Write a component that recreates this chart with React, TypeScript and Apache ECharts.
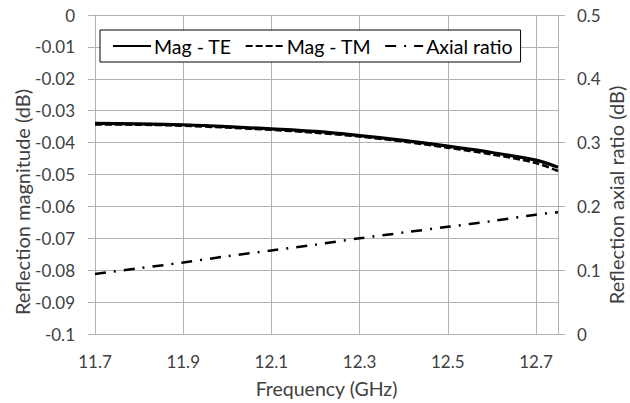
import React, { useEffect, useRef } from "react";
import * as echarts from "echarts";

const freqGHz = [11.7, 11.8, 11.9, 12.0, 12.1, 12.2, 12.3, 12.4, 12.5, 12.6, 12.7, 12.75];
const magTE = [-0.034, -0.0341, -0.0344, -0.035, -0.0357, -0.0365, -0.0378, -0.0393, -0.0411, -0.0431, -0.0455, -0.0477];
const magTM = [-0.0343, -0.0344, -0.0347, -0.0353, -0.036, -0.0369, -0.0381, -0.0397, -0.0416, -0.0437, -0.0464, -0.0489];
const axialRatio = [0.094, 0.103, 0.112, 0.122, 0.131, 0.14, 0.15, 0.159, 0.168, 0.177, 0.187, 0.191];
const seriesNames = ["Mag - TE", "Mag - TM", "Axial ratio"];
const X0 = 11.7;
const X_MAX = 12.75;

const FONT = "Lato";
const GRID = "#b3b3b3";
const TXT = "#404040";

export default function App() {
  const ref = useRef<HTMLDivElement>(null);
  useEffect(() => {
    if (!ref.current) return;
    const chart = echarts.init(ref.current, undefined, { renderer: "svg" });
    const pts = (ys: number[]) => freqGHz.map((f, i) => [+(f - X0).toFixed(4), ys[i]]);
    chart.setOption({
      animation: false,
      textStyle: { fontFamily: FONT },
      grid: { left: 95, right: 72, top: 15, bottom: 66 },
      legend: {
        left: 100,
        top: 30,
        data: seriesNames,
        backgroundColor: "#fff",
        borderColor: "#000",
        borderWidth: 1,
        padding: [6, 8, 6, 12],
        itemGap: 13,
        itemWidth: 38,
        itemHeight: 14,
        itemStyle: { opacity: 0 },
        textStyle: { fontFamily: FONT, fontSize: 19.5, color: "#000", padding: [0, 0, 0, -2] },
      },
      xAxis: {
        type: "value",
        min: 0,
        max: +(X_MAX - X0).toFixed(4),
        interval: 0.2,
        name: "Frequency (GHz)",
        nameLocation: "middle",
        nameGap: 44,
        nameTextStyle: { fontFamily: FONT, fontSize: 19.5, color: TXT },
        axisLine: { show: true, lineStyle: { color: GRID } },
        axisTick: { show: true, length: 6, lineStyle: { color: GRID } },
        axisLabel: {
          showMaxLabel: false,
          margin: 19,
          fontFamily: FONT,
          fontSize: 17,
          color: TXT,
          formatter: (v: number) => (v + X0).toFixed(1),
        },
        splitLine: { show: true, lineStyle: { color: GRID, width: 1 } },
      },
      yAxis: [
        {
          type: "value",
          min: -0.1,
          max: 0,
          interval: 0.01,
          axisLine: { show: true, lineStyle: { color: GRID } },
          axisTick: { show: true, length: 7, lineStyle: { color: GRID } },
          axisLabel: {
            margin: 20,
            fontFamily: FONT,
            fontSize: 17,
            color: TXT,
            formatter: (v: number) => String(+v.toFixed(2)),
          },
          splitLine: { show: true, lineStyle: { color: GRID, width: 1 } },
        },
        {
          type: "value",
          min: 0,
          max: 0.5,
          interval: 0.1,
          position: "right",
          axisLine: { show: true, lineStyle: { color: GRID } },
          axisTick: { show: true, length: 7, lineStyle: { color: GRID } },
          axisLabel: {
            margin: 19,
            fontFamily: FONT,
            fontSize: 17,
            color: TXT,
            formatter: (v: number) => String(+v.toFixed(2)),
          },
          splitLine: { show: false },
        },
      ],
      graphic: [
        {
          type: "text",
          x: 22,
          y: 202,
          rotation: Math.PI / 2,
          style: {
            text: "Reflection magnitude (dB)",
            fontFamily: FONT,
            fontSize: 20,
            fill: TXT,
            align: "center",
            verticalAlign: "middle",
          },
        },
        {
          type: "text",
          x: 616,
          y: 195,
          rotation: Math.PI / 2,
          style: {
            text: "Reflection axial ratio (dB)",
            fontFamily: FONT,
            fontSize: 20,
            fill: TXT,
            align: "center",
            verticalAlign: "middle",
          },
        },
      ],
      series: [
        {
          name: seriesNames[0],
          type: "line",
          yAxisIndex: 0,
          data: pts(magTE),
          symbol: "none",
          smooth: 0.3,
          lineStyle: { color: "#000", width: 3.2, type: "solid" },
          itemStyle: { color: "#000" },
        },
        {
          name: seriesNames[1],
          type: "line",
          yAxisIndex: 0,
          data: pts(magTM),
          symbol: "none",
          smooth: 0.3,
          lineStyle: { color: "#000", width: 2.5, type: [7, 3] },
          itemStyle: { color: "#000" },
        },
        {
          name: seriesNames[2],
          type: "line",
          yAxisIndex: 1,
          data: pts(axialRatio),
          symbol: "none",
          smooth: 0.3,
          lineStyle: { color: "#000", width: 2.5, type: [11, 8, 2, 8] },
          itemStyle: { color: "#000" },
        },
      ],
    });
    return () => chart.dispose();
  }, []);
  return (
    <div
      ref={ref}
      style={{ position: "fixed", left: 0, top: 0, width: 630, height: 403, background: "#fff" }}
    />
  );
}
